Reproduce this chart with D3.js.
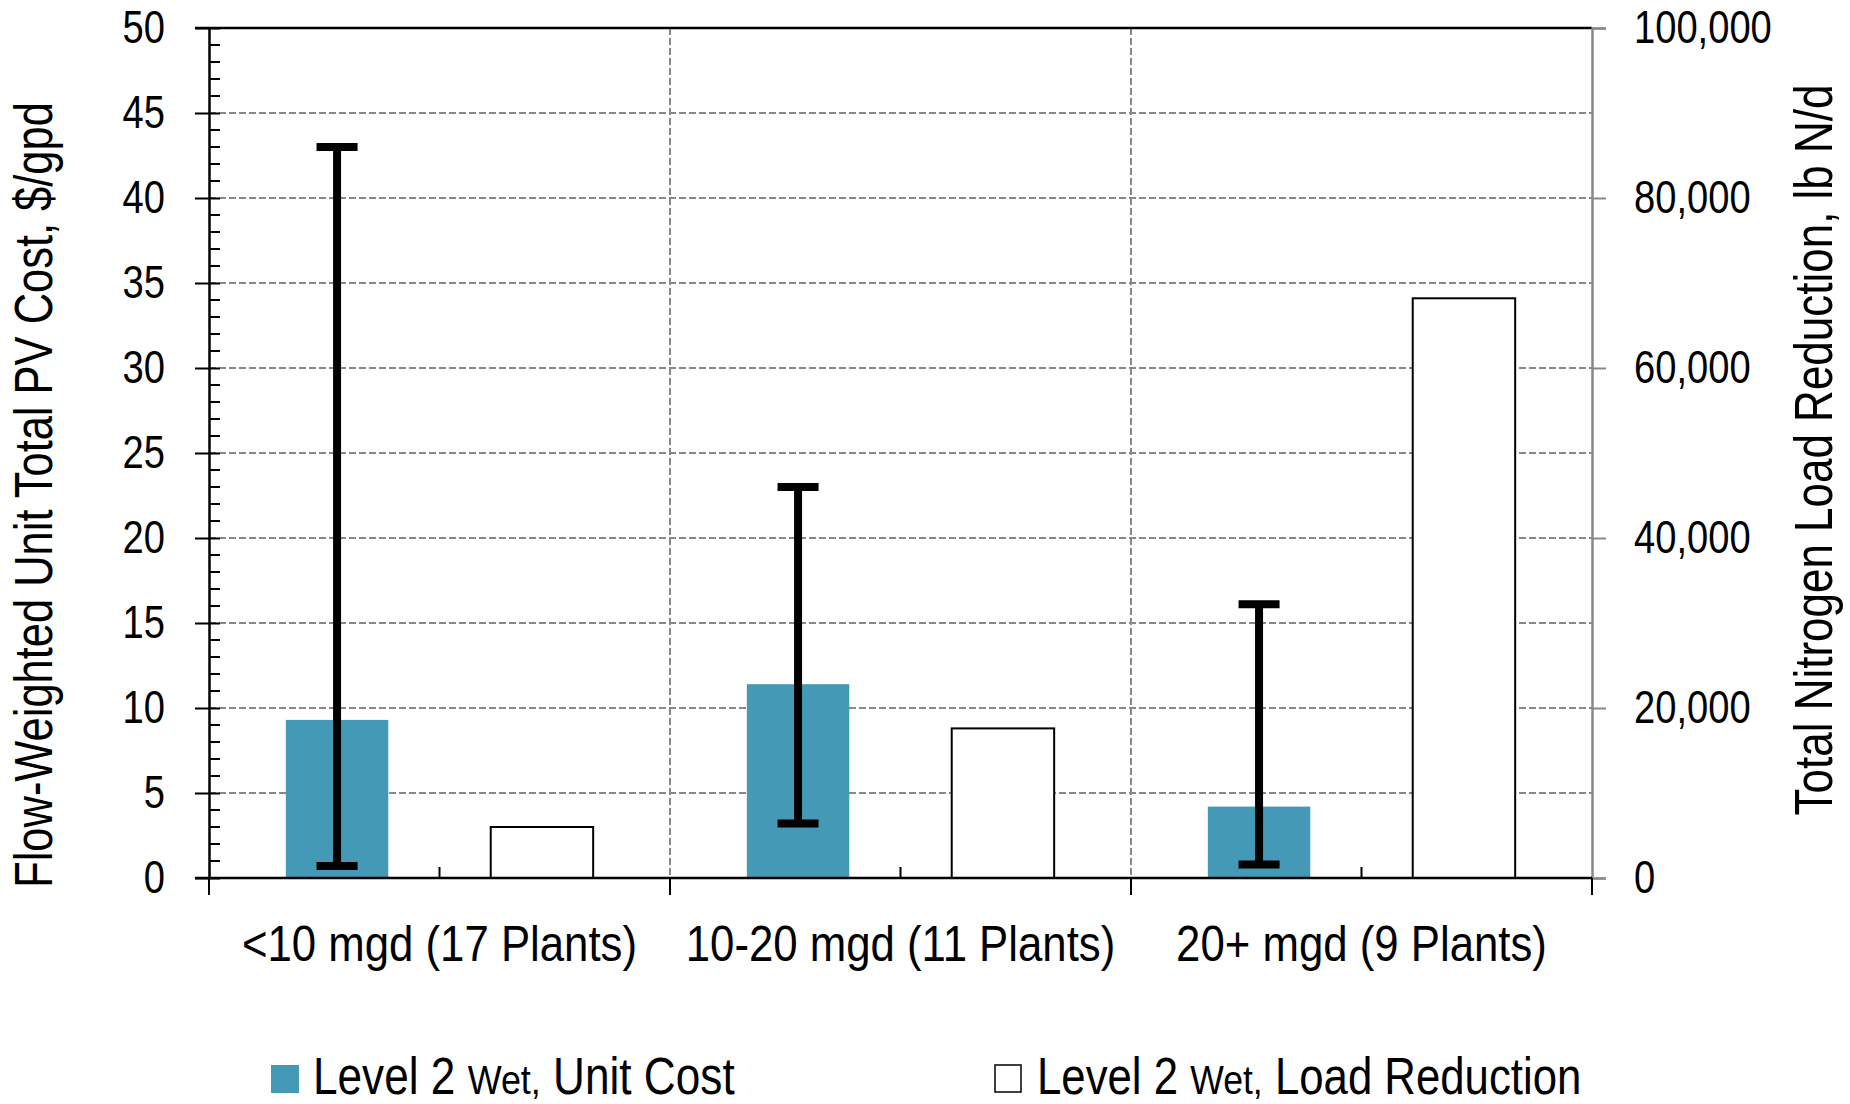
<!DOCTYPE html>
<html>
<head>
<meta charset="utf-8">
<script src="https://cdn.jsdelivr.net/npm/d3@7/dist/d3.min.js"></script>
<style>
  html, body { margin: 0; padding: 0; background: #fff; }
  svg { display: block; }
  text { font-family: "Liberation Sans", Arial, sans-serif; fill: #000; }
</style>
</head>
<body>
<svg id="chart" width="1850" height="1104"></svg>
<script>
// ---- data ----
const categories = ["<10 mgd (17 Plants)", "10-20 mgd (11 Plants)", "20+ mgd (9 Plants)"];
const unitCost = [9.3, 11.4, 4.2];
const unitCostLow = [0.7, 3.2, 0.8];
const unitCostHigh = [43.0, 23.0, 16.1];
const loadReduction = [6000, 17600, 68200];
const leftTicks = [0, 5, 10, 15, 20, 25, 30, 35, 40, 45, 50];
const rightTicks = [0, 20000, 40000, 60000, 80000, 100000];
const seriesNames = ["Level 2 Wet, Unit Cost", "Level 2 Wet, Load Reduction"];
const leftTitle = "Flow-Weighted Unit Total PV Cost, $/gpd";
const rightTitle = "Total Nitrogen Load Reduction, lb N/d";

// ---- layout ----
const L = 209, R = 1592, T = 28, B = 878;
const teal = "#4499B6";
const gridColor = "#888888";
const NARROW = 0.82;

const svg = d3.select("#chart");

// horizontally condense text (Arial Narrow look) while keeping it real text
function condense(sel, sx) {
  sel.each(function () {
    const el = d3.select(this);
    const x = +(el.attr("x") || 0);
    el.attr("x", x / sx);
    const tr = el.attr("transform") || "";
    el.attr("transform", (tr ? tr + " " : "") + `scale(${sx},1)`);
  });
}

const x0 = d3.scaleBand().domain(categories).range([L, R]).paddingInner(0).paddingOuter(0);
const x1 = d3.scaleBand().domain(["cost", "load"]).range([0, x0.bandwidth()]).paddingInner(0.5).paddingOuter(0.375);
const yL = d3.scaleLinear().domain([0, 50]).range([B, T]);
const yR = d3.scaleLinear().domain([0, 100000]).range([B, T]);

// horizontal gridlines
svg.append("g").selectAll("line").data(leftTicks.filter(d => d > 0 && d < 50)).join("line")
  .attr("x1", L).attr("x2", R).attr("y1", d => yL(d)).attr("y2", d => yL(d))
  .attr("stroke", gridColor).attr("stroke-width", 2).attr("stroke-dasharray", "7,3");

// vertical gridlines at category boundaries
svg.append("g").selectAll("line").data(categories.slice(1)).join("line")
  .attr("x1", d => x0(d)).attr("x2", d => x0(d)).attr("y1", T).attr("y2", B)
  .attr("stroke", gridColor).attr("stroke-width", 2).attr("stroke-dasharray", "7,3");

// teal bars
svg.append("g").selectAll("rect").data(unitCost).join("rect")
  .attr("x", (d, i) => x0(categories[i]) + x1("cost"))
  .attr("width", x1.bandwidth())
  .attr("y", d => yL(d)).attr("height", d => B - yL(d))
  .attr("fill", teal);

// white bars (secondary axis)
svg.append("g").selectAll("rect").data(loadReduction).join("rect")
  .attr("x", (d, i) => x0(categories[i]) + x1("load"))
  .attr("width", x1.bandwidth())
  .attr("y", d => yR(d)).attr("height", d => B - yR(d))
  .attr("fill", "#fff").attr("stroke", "#000").attr("stroke-width", 2);

// top border
svg.append("line").attr("x1", L - 14).attr("x2", R).attr("y1", T).attr("y2", T)
  .attr("stroke", "#000").attr("stroke-width", 2.5);

// right axis (secondary)
const gR = svg.append("g").attr("transform", `translate(${R},0)`)
  .call(d3.axisRight(yR).tickValues(rightTicks).tickSize(14).tickPadding(28).tickFormat(d3.format(",")));
gR.select(".domain").attr("stroke", "#888").attr("stroke-width", 2.5);
gR.selectAll(".tick line").attr("stroke", "#888").attr("stroke-width", 2);
gR.selectAll(".tick text").attr("font-size", 46.5).attr("fill", "#000")
  .attr("font-family", "'Liberation Sans', Arial, sans-serif");
condense(gR.selectAll(".tick text"), NARROW);

// left axis minor ticks (inside)
const minorTicks = d3.range(0, 51, 1).filter(d => d % 5 !== 0);
svg.append("g").selectAll("line").data(minorTicks).join("line")
  .attr("x1", L).attr("x2", L + 11).attr("y1", d => yL(d)).attr("y2", d => yL(d))
  .attr("stroke", "#000").attr("stroke-width", 2);

// left axis
const gL = svg.append("g").attr("transform", `translate(${L},0)`)
  .call(d3.axisLeft(yL).tickValues(leftTicks).tickSizeInner(14).tickSizeOuter(0).tickPadding(30));
gL.select(".domain").attr("stroke", "#000").attr("stroke-width", 2.5);
gL.selectAll(".tick line").attr("stroke", "#000").attr("stroke-width", 2).attr("x2", 11).attr("x1", -14);
gL.selectAll(".tick text").attr("font-size", 46.5).attr("fill", "#000")
  .attr("font-family", "'Liberation Sans', Arial, sans-serif");
condense(gL.selectAll(".tick text"), NARROW);

// bottom axis
svg.append("line").attr("x1", L - 14).attr("x2", R).attr("y1", B).attr("y2", B)
  .attr("stroke", "#000").attr("stroke-width", 2.5);
const boundaries = categories.map(c => x0(c)).concat([R]);
svg.append("g").selectAll("line").data(boundaries).join("line")
  .attr("x1", d => d).attr("x2", d => d).attr("y1", B).attr("y2", B + 17)
  .attr("stroke", "#000").attr("stroke-width", 2);
svg.append("g").selectAll("line").data(categories).join("line")
  .attr("x1", d => x0(d) + x0.bandwidth() / 2).attr("x2", d => x0(d) + x0.bandwidth() / 2)
  .attr("y1", B).attr("y2", B - 11)
  .attr("stroke", "#000").attr("stroke-width", 2);
const xl = svg.append("g").selectAll("text").data(categories).join("text")
  .attr("x", d => x0(d) + x0.bandwidth() / 2).attr("y", 961)
  .attr("text-anchor", "middle").attr("font-size", 50).text(d => d);
condense(xl, 0.875);

// error bars
const eb = svg.append("g");
categories.forEach((c, i) => {
  const cx = x0(c) + x1("cost") + x1.bandwidth() / 2;
  eb.append("line").attr("x1", cx).attr("x2", cx)
    .attr("y1", yL(unitCostHigh[i])).attr("y2", yL(unitCostLow[i]))
    .attr("stroke", "#000").attr("stroke-width", 8);
  [unitCostHigh[i], unitCostLow[i]].forEach(v => {
    eb.append("line").attr("x1", cx - 20.5).attr("x2", cx + 20.5)
      .attr("y1", yL(v)).attr("y2", yL(v))
      .attr("stroke", "#000").attr("stroke-width", 8);
  });
});

// axis titles
const tL = svg.append("text").attr("transform", `translate(52,${(887 + 103) / 2}) rotate(-90)`)
  .attr("text-anchor", "middle").attr("font-size", 53).text(leftTitle);
const tR = svg.append("text").attr("transform", `translate(1832,${(815 + 85) / 2}) rotate(-90)`)
  .attr("text-anchor", "middle").attr("font-size", 53).text(rightTitle);
condense(tL, NARROW);
condense(tR, 0.83);

// legend
function legendText(g, x, y, name) {
  const parts = name.split(" Wet,");
  const t = g.append("text").attr("x", x).attr("y", y).attr("font-size", 51);
  t.append("tspan").text(parts[0] + " ");
  t.append("tspan").attr("font-size", 41.5).text("Wet,");
  t.append("tspan").text(parts[1]);
  return t;
}
const lg = svg.append("g");
lg.append("rect").attr("x", 271).attr("y", 1065).attr("width", 28).attr("height", 28).attr("fill", teal);
condense(legendText(lg, 313, 1094, seriesNames[0]), 0.866);
lg.append("rect").attr("x", 995).attr("y", 1065).attr("width", 26).attr("height", 27)
  .attr("fill", "#fff").attr("stroke", "#000").attr("stroke-width", 1.5);
condense(legendText(lg, 1037, 1094, seriesNames[1]), 0.858);
</script>
</body>
</html>
